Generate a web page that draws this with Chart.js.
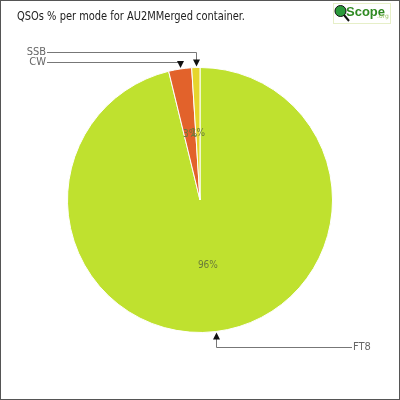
<!DOCTYPE html>
<html>
<head>
<meta charset="utf-8">
<script src="https://cdn.jsdelivr.net/npm/chart.js"></script>
<style>
  html, body { margin: 0; padding: 0; background: #fff; }
  #wrap { width: 400px; height: 400px; position: relative; }
</style>
</head>
<body>
<div id="wrap"><canvas id="pieChart" width="400" height="400"></canvas></div>
<script>
// بيانات الرسم
const modes = ['FT8', 'CW', 'SSB'];
const shares = [96.2, 2.8, 1.0];
const percentLabels = ['96%', '3%', '1%'];
const sliceColors = ['#bfe12f', '#e2622b', '#e6d52c'];

const chartTitle = 'QSOs % per mode for AU2MMerged container.';

// إطار الصورة والعنوان والشعار
const framePlugin = {
    id: 'frame',
    beforeDraw(chart) {
        const ctx = chart.ctx;
        ctx.save();
        ctx.fillStyle = '#fff';
        ctx.fillRect(0, 0, 400, 400);
        ctx.restore();
    },
    afterDraw(chart) {
        const ctx = chart.ctx;
        ctx.save();
        ctx.strokeStyle = '#555';
        ctx.lineWidth = 1;
        ctx.strokeRect(0.5, 0.5, 399, 399);

        // العنوان: خط أكبر مضغوط أفقياً ليطابق العرض
        ctx.fillStyle = '#222';
        ctx.font = '13px "Liberation Sans Narrow", "DejaVu Sans Condensed", sans-serif';
        ctx.textBaseline = 'middle';
        ctx.textAlign = 'left';
        const w = ctx.measureText(chartTitle).width;
        ctx.save();
        ctx.translate(17, 17);
        ctx.scale(228 / w, 1);
        ctx.fillText(chartTitle, 0, 0);
        ctx.restore();

        // الشعار
        ctx.strokeStyle = '#e6efc8';
        ctx.strokeRect(333.5, 3.5, 57, 20);
        ctx.strokeStyle = '#111';
        ctx.lineWidth = 2;
        ctx.beginPath();
        ctx.moveTo(344, 15);
        ctx.lineTo(349, 21);
        ctx.stroke();
        ctx.fillStyle = '#2a9a3a';
        ctx.beginPath();
        ctx.arc(340.5, 11, 5.5, 0, Math.PI * 2);
        ctx.fill();
        ctx.lineWidth = 1;
        ctx.stroke();
        ctx.fillStyle = '#2f8a22';
        ctx.font = 'bold 13px "Liberation Sans Narrow", sans-serif';
        ctx.fillText('Scope', 346, 12);
        ctx.fillStyle = '#9cc46a';
        ctx.font = '6px "DejaVu Sans", sans-serif';
        ctx.fillText('.org', 377, 16);
        ctx.restore();
    }
};

// النسب داخل الشرائح والخطوط الدالة
const calloutPlugin = {
    id: 'callouts',
    afterDatasetsDraw(chart, args, opts) {
        const ctx = chart.ctx;
        const meta = chart.getDatasetMeta(0);
        ctx.save();
        meta.data.forEach((arc, i) => {
            const mid = (arc.startAngle + arc.endAngle) / 2;
            const r = arc.outerRadius;
            // النسبة
            ctx.fillStyle = '#6a7a3a';
            ctx.font = '10px "DejaVu Sans Condensed", sans-serif';
            ctx.textAlign = 'center';
            ctx.textBaseline = 'middle';
            ctx.fillText(percentLabels[i], arc.x + Math.cos(mid) * r * 0.5, arc.y + Math.sin(mid) * r * 0.5);

            // السهم والخط
            const tx = arc.x + Math.cos(mid) * r;
            const ty = arc.y + Math.sin(mid) * r;
            const row = opts.rows[i];
            const up = ty > arc.y;
            const tipY = up ? ty + 1 : ty - 1;
            const ax = Math.round(tx) + 0.5;
            ctx.strokeStyle = '#777';
            ctx.lineWidth = 1;
            ctx.beginPath();
            ctx.moveTo(ax, up ? tipY + 6 : tipY - 6);
            ctx.lineTo(ax, row + 0.5);
            ctx.lineTo(row > arc.y ? opts.rightX : opts.leftX, row + 0.5);
            ctx.stroke();

            ctx.fillStyle = '#111';
            ctx.beginPath();
            const dir = up ? 1 : -1;
            ctx.moveTo(ax, tipY);
            ctx.lineTo(ax - 3.5, tipY + 7 * dir);
            ctx.lineTo(ax + 3.5, tipY + 7 * dir);
            ctx.closePath();
            ctx.fill();

            ctx.fillStyle = '#666';
            ctx.font = '11px "DejaVu Sans Condensed", sans-serif';
            if (row > arc.y) {
                ctx.textAlign = 'left';
                ctx.fillText(modes[i], opts.rightX + 1, row);
            } else {
                ctx.textAlign = 'right';
                ctx.fillText(modes[i], opts.leftX - 1, row);
            }
        });
        ctx.restore();
    }
};

new Chart(document.getElementById('pieChart').getContext('2d'), {
    type: 'pie',
    data: {
        labels: modes,
        datasets: [{
            data: shares,
            backgroundColor: sliceColors,
            borderColor: '#fff',
            borderWidth: 1
        }]
    },
    options: {
        responsive: false,
        animation: false,
        layout: { padding: 67 },
        plugins: {
            legend: { display: false },
            tooltip: { enabled: false },
            callouts: { rows: [347, 62, 52], leftX: 47, rightX: 352 }
        }
    },
    plugins: [framePlugin, calloutPlugin]
});
</script>
</body>
</html>
